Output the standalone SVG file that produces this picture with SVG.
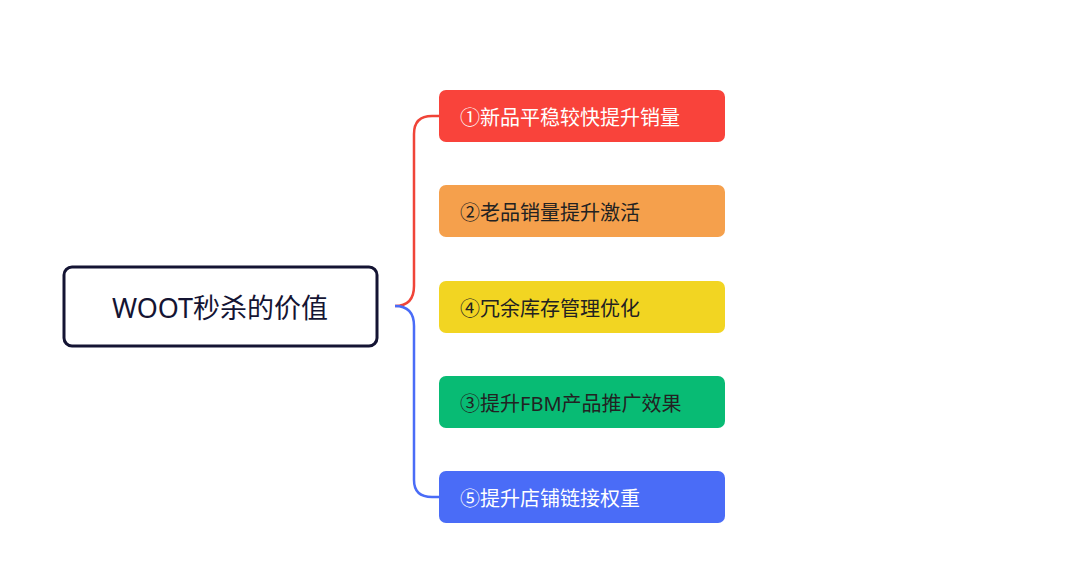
<svg xmlns="http://www.w3.org/2000/svg" width="1080" height="578" viewBox="0 0 1080 578">
<style>
.t{font-family:"Noto Sans","Noto Sans CJK SC",sans-serif;font-size:20px;dominant-baseline:central}
.w{fill:#ffffff}.d{fill:#222222}
.c{fill:none;stroke-width:2.5}
</style>
<rect width="1080" height="578" fill="#fff"/>
<g id="connectors">
<path class="c" stroke="#f04438" d="M395,306 Q414,306 414,286 L414,134 Q414,116 432,116 L439,116"/>
<path class="c" stroke="#4a6cf7" d="M395,306 Q414,306 414,326 L414,480 Q414,497 432,497 L439,497"/>
</g>
<g id="root"><rect x="64" y="267" width="313" height="79" rx="8" fill="#fff" stroke="#141433" stroke-width="3"/>
<text class="t" x="220" y="307" text-anchor="middle" font-size="27" fill="#141433" style="font-size:27px">WOOT秒杀的价值</text></g>
<g id="n1"><rect x="439" y="90" width="286" height="52" rx="7" fill="#f9433b"/><text class="t w" x="460" y="117">①新品平稳较快提升销量</text></g>
<g id="n2"><rect x="439" y="185" width="286" height="52" rx="7" fill="#f5a04c"/><text class="t d" x="460" y="212">②老品销量提升激活</text></g>
<g id="n4"><rect x="439" y="281" width="286" height="52" rx="7" fill="#f2d522"/><text class="t d" x="460" y="308">④冗余库存管理优化</text></g>
<g id="n3"><rect x="439" y="376" width="286" height="52" rx="7" fill="#08bb74"/><text class="t d" x="460" y="403">③提升FBM产品推广效果</text></g>
<g id="n5"><rect x="439" y="471" width="286" height="52" rx="7" fill="#4a6cf7"/><text class="t w" x="460" y="498">⑤提升店铺链接权重</text></g>
</svg>
